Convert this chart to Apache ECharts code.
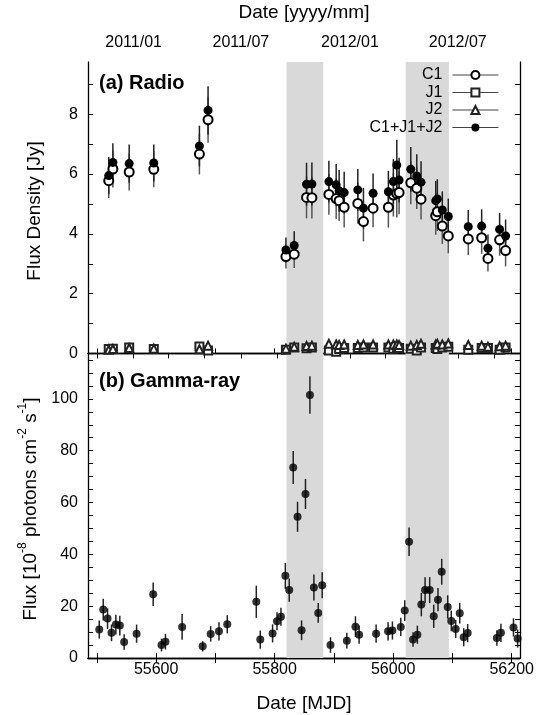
<!DOCTYPE html>
<html><head><meta charset="utf-8">
<script src="https://cdn.jsdelivr.net/npm/echarts@6/dist/echarts.min.js"></script>
<style>html,body{margin:0;padding:0;background:#fff}#c{width:538px;height:715px}</style>
</head><body><div id="c"></div>
<script>
// ---- Radio data (MJD, flux density in Jy) ----
const radioMJD   = [55520,55527,55554.5,55596,55673,55687.6,55819,55833,55853.8,55862.8,55891.5,55903.8,55908.8,55917.3,55940.3,55949.8,55966.1,55991.9,56000.3,56006.1,56010,56029.7,56039.8,56047,56071.8,56074.5,56082.9,56093,56126.7,56149.3,56159.9,56179.6,56189.7];
const totalFlux  = [5.95,6.39,6.35,6.37,6.94,8.13,3.46,3.61,5.66,5.67,5.75,5.64,5.44,5.38,5.47,4.86,5.36,5.41,5.75,6.30,5.80,6.16,5.94,5.73,5.11,5.17,4.80,4.58,4.24,4.26,3.52,4.15,3.93];
const totalErr   = [0.62,0.64,0.64,0.62,0.68,0.81,0.42,0.48,0.72,0.72,0.70,0.70,0.70,0.70,0.70,0.68,0.66,0.70,0.75,0.85,0.75,0.75,0.72,0.70,0.66,0.66,0.62,0.60,0.56,0.56,0.46,0.55,0.55];
const c1Flux     = [5.78,6.17,6.07,6.16,6.67,7.82,3.24,3.32,5.22,5.21,5.32,5.18,5.11,4.89,5.02,4.41,4.86,4.89,5.30,5.35,5.38,5.71,5.53,5.16,4.61,4.74,4.26,3.93,3.83,3.87,3.18,3.80,3.44];
const c1Err      = [0.58,0.62,0.62,0.60,0.68,0.77,0.40,0.46,0.70,0.70,0.68,0.68,0.68,0.68,0.68,0.66,0.64,0.68,0.72,0.80,0.72,0.72,0.70,0.68,0.64,0.64,0.60,0.58,0.54,0.54,0.44,0.53,0.53];
const j1Flux     = [0.15,0.16,0.20,0.15,0.23,0.10,0.12,0.20,0.17,0.20,0.10,0.06,0.15,0.18,0.18,0.20,0.20,0.20,0.15,0.20,0.18,0.16,0.10,0.20,0.18,0.15,0.20,0.22,0.12,0.18,0.18,0.12,0.20];
const j2Flux     = [0.12,0.15,0.18,0.16,0.14,0.26,0.16,0.22,0.25,0.26,0.32,0.30,0.28,0.30,0.28,0.30,0.30,0.30,0.30,0.30,0.28,0.26,0.28,0.32,0.30,0.32,0.30,0.33,0.28,0.26,0.22,0.24,0.26];

// ---- Gamma-ray data (MJD, flux in 1e-8 ph cm^-2 s^-1) ----
const gammaMJD  = [55504,55510.7,55518,55524.7,55532,55538.7,55546,55567,55595,55609,55615.7,55643.8,55678.5,55692,55706,55720,55769,55775.7,55796.5,55803.9,55810.6,55818,55824.6,55831.3,55838.6,55845.4,55852,55859.5,55866.2,55873.5,55880.2,55894.2,55921.8,55936.3,55942.5,55971.2,55991.4,55998.7,56012.8,56019.5,56026.8,56033.5,56040.8,56047.5,56053.8,56061.6,56068.4,56075.6,56081.9,56092,56098,56105.5,56112.3,56119,56125.7,56175,56181.8,56203,56210];
const gammaFlux = [11.0,18.7,15.2,9.7,12.9,12.5,6.2,9.4,24.6,5.0,6.3,12.0,4.5,9.3,10.3,13.0,21.7,7.1,9.5,14.2,15.9,31.7,26.2,73.5,54.5,10.7,63.3,101.5,27.2,17.4,28.1,5.0,6.7,12.1,9.0,9.4,10.3,10.6,12.0,18.3,44.9,7.1,9.0,20.6,26.2,26.2,16.1,22.5,33.3,19.7,14.3,11.2,17.3,8.0,9.6,7.7,9.7,11.8,7.5];
const gammaErr  = [3.5,4.2,4.0,3.2,3.8,3.8,3.0,3.5,4.5,2.5,3.0,5.0,2.0,3.0,3.5,3.5,6.2,3.5,3.5,3.5,3.5,5.0,4.5,6.4,5.8,3.8,5.8,7.2,5.0,3.8,5.0,3.0,3.0,4.0,3.5,3.5,3.5,3.5,3.5,4.0,5.5,2.8,3.5,4.5,5.0,5.0,4.5,4.5,5.0,4.5,4.0,3.5,4.0,3.5,3.5,3.0,3.5,3.5,3.5];

// ---- Shaded flare periods (MJD) ----
const bands = [[55820,55882],[56021,56094]];

// ---- Ticks ----
const mjdTicks = [55500,55600,55700,55800,55900,56000,56100,56200];
const mjdLabels = [55600,55800,56000,56200];
const dateTicks = [55501,55562,55621,55682,55743,55805,55866,55927,55987,56048,56109,56171];
const dateLabelMJD = [55562,55743,55927,56109];
const dateLabelText = ['2011/01','2011/07','2012/01','2012/07'];
const radioTicks = [0,1,2,3,4,5,6,7,8,9];
const radioLabels = [0,2,4,6,8];
const gammaTicks = [0,5,10,15,20,25,30,35,40,45,50,55,60,65,70,75,80,85,90,95,100,105,110,115];
const gammaLabels = [0,20,40,60,80,100];

const FONT = 'Liberation Sans';
const X_MIN = 55485, X_MAX = 56214;

const zip = (xs, ys) => xs.map((x, i) => [x, ys[i]]);
const errData = (xs, ys, es) => xs.map((x, i) => [x, ys[i] - es[i], ys[i] + es[i]]);

function errRender(color, width) {
  return function (params, api) {
    const x = api.value(0);
    const p1 = api.coord([x, api.value(1)]);
    const p2 = api.coord([x, api.value(2)]);
    return { type: 'line', shape: { x1: p1[0], y1: p1[1], x2: p2[0], y2: p2[1] },
             style: { stroke: color, lineWidth: width } };
  };
}

const axLine = { show: true, lineStyle: { color: '#000', width: 1.3 } };
function xAx(gridIndex, position, tickVals, labelVals, fmt, extra, margin) {
  return Object.assign({
    type: 'value', gridIndex, position, min: X_MIN, max: X_MAX,
    axisLine: axLine, splitLine: { show: false },
    axisTick: { show: true, inside: true, length: 5, customValues: tickVals, lineStyle: { color: '#000', width: 1 } },
    axisLabel: labelVals ? { show: true, customValues: labelVals, formatter: fmt, fontFamily: FONT, fontSize: 16, color: '#000', margin: margin } : { show: false }
  }, extra || {});
}
function yAx(gridIndex, position, min, max, tickVals, labelVals, extra) {
  return Object.assign({
    type: 'value', gridIndex, position, min, max,
    axisLine: axLine, splitLine: { show: false },
    axisTick: { show: true, inside: true, length: 5, customValues: tickVals, lineStyle: { color: '#000', width: 1 } },
    axisLabel: labelVals ? { show: true, customValues: labelVals, fontFamily: FONT, fontSize: 16, color: '#000', margin: 10 } : { show: false }
  }, extra || {});
}

const chart = echarts.init(document.getElementById('c'), null, { renderer: 'canvas' });
const option = {
  animation: false,
  backgroundColor: '#fff',
  textStyle: { fontFamily: FONT },
  grid: [
    { left: 88, right: 18, top: 62, height: 298 },
    { left: 88, right: 18, top: 360, height: 298 }
  ],
  xAxis: [
    xAx(0, 'bottom', mjdTicks, null),
    xAx(0, 'top', dateTicks, dateLabelMJD, v => dateLabelText[dateLabelMJD.indexOf(v)],
        { name: 'Date [yyyy/mm]', nameLocation: 'middle', nameGap: 40,
          nameTextStyle: { fontFamily: FONT, fontSize: 19, color: '#000' } }, 11),
    xAx(1, 'bottom', mjdTicks, mjdLabels, v => String(v),
        { name: 'Date [MJD]', nameLocation: 'middle', nameGap: 36,
          nameTextStyle: { fontFamily: FONT, fontSize: 19, color: '#000' } }, 4),
    xAx(1, 'top', mjdTicks, null)
  ],
  yAxis: [
    yAx(0, 'left', -0.22, 9.75, radioTicks, radioLabels,
        { name: 'Flux Density [Jy]', nameLocation: 'middle', nameGap: 44,
          nameTextStyle: { fontFamily: FONT, fontSize: 19, color: '#000' } }),
    yAx(0, 'right', -0.22, 9.75, radioTicks, null),
    yAx(1, 'left', 0, 115, gammaTicks, gammaLabels,
        { name: '{n|Flux [10}{s|-8}{n| photons cm}{s|-2}{n| s}{s|-1}{n|]}', nameLocation: 'middle', nameGap: 40,
          nameTextStyle: { fontFamily: FONT, fontSize: 19, color: '#000',
            rich: { n: { fontFamily: FONT, fontSize: 19, color: '#000', padding: [5, 0, 0, 0], verticalAlign: 'bottom' },
                    s: { fontFamily: FONT, fontSize: 12, color: '#000', verticalAlign: 'top' } } } }),
    yAx(1, 'right', 0, 115, gammaTicks, null)
  ],
  legend: {
    orient: 'vertical', right: 34, top: 62, align: 'right',
    itemWidth: 46, itemHeight: 10, itemGap: 1.5,
    data: ['C1', 'J1', 'J2', 'C1+J1+J2'],
    textStyle: { fontFamily: FONT, fontSize: 16, color: '#000', padding: [0, 5, 0, 0] },
    lineStyle: { color: '#444', width: 1.2, opacity: 1 },
    selectedMode: false
  },
  series: [
    { type: 'scatter', xAxisIndex: 0, yAxisIndex: 0, data: [], z: 0, silent: true,
      markArea: { silent: true, itemStyle: { color: '#d9d9d9' },
        data: bands.map(b => [{ xAxis: b[0] }, { xAxis: b[1] }]) } },
    { type: 'scatter', xAxisIndex: 2, yAxisIndex: 2, data: [], z: 0, silent: true,
      markArea: { silent: true, itemStyle: { color: '#d9d9d9' },
        data: bands.map(b => [{ xAxis: b[0] }, { xAxis: b[1] }]) } },
    { type: 'custom', name: 'c1err', xAxisIndex: 0, yAxisIndex: 0, z: 2, silent: true,
      renderItem: errRender('#555', 1.5), encode: { x: 0, y: [1, 2] },
      data: errData(radioMJD, c1Flux, c1Err) },
    { type: 'custom', name: 'toterr', xAxisIndex: 0, yAxisIndex: 0, z: 2, silent: true,
      renderItem: errRender('#222', 1.5), encode: { x: 0, y: [1, 2] },
      data: errData(radioMJD, totalFlux, totalErr) },
    { type: 'line', name: 'J1', xAxisIndex: 0, yAxisIndex: 0, z: 3, symbol: 'emptyRect', symbolSize: 8,
      showAllSymbol: true, lineStyle: { opacity: 0 }, itemStyle: { color: '#222', borderWidth: 1 },
      data: zip(radioMJD, j1Flux) },
    { type: 'line', name: 'J2', xAxisIndex: 0, yAxisIndex: 0, z: 3, symbol: 'emptyTriangle', symbolSize: 8,
      showAllSymbol: true, lineStyle: { opacity: 0 }, itemStyle: { color: '#222', borderWidth: 1 },
      data: zip(radioMJD, j2Flux) },
    { type: 'line', name: 'C1', xAxisIndex: 0, yAxisIndex: 0, z: 4, symbol: 'emptyCircle', symbolSize: 9,
      showAllSymbol: true, lineStyle: { opacity: 0 }, itemStyle: { color: '#000', borderWidth: 1 },
      data: zip(radioMJD, c1Flux) },
    { type: 'line', name: 'C1+J1+J2', xAxisIndex: 0, yAxisIndex: 0, z: 5, symbol: 'circle', symbolSize: 9,
      showAllSymbol: true, lineStyle: { opacity: 0 }, itemStyle: { color: '#000' },
      data: zip(radioMJD, totalFlux) },
    { type: 'custom', name: 'gerr', xAxisIndex: 2, yAxisIndex: 2, z: 2, silent: true,
      renderItem: errRender('#222', 1.5), encode: { x: 0, y: [1, 2] },
      data: errData(gammaMJD, gammaFlux, gammaErr) },
    { type: 'scatter', name: 'gamma', xAxisIndex: 2, yAxisIndex: 2, z: 5, symbol: 'circle', symbolSize: 8,
      itemStyle: { color: '#000' }, data: zip(gammaMJD, gammaFlux) }
  ],
  graphic: [
    { type: 'text', left: 99, top: 73, style: { text: '(a) Radio', font: 'bold 20px "Liberation Sans"', fill: '#000' } },
    { type: 'text', left: 99, top: 371, style: { text: '(b) Gamma-ray', font: 'bold 20px "Liberation Sans"', fill: '#000' } }
  ]
};
chart.setOption(option);
</script>
</body></html>
